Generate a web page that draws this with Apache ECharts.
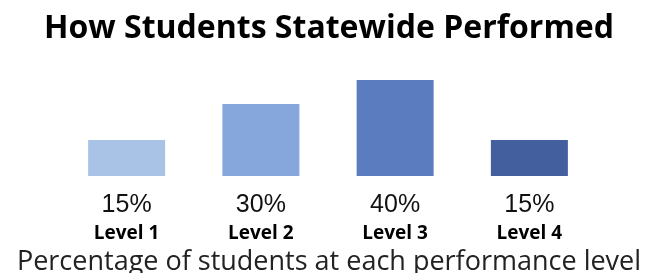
<!DOCTYPE html>
<html>
<head>
<meta charset="utf-8">
<script src="https://cdn.jsdelivr.net/npm/echarts@6/dist/echarts.min.js"></script>
<style>
  html, body { margin: 0; padding: 0; background: #fff; }
  #chart { width: 658px; height: 273px; }
</style>
</head>
<body>
<div id="chart"></div>
<script>
// data
const levels = ['Level 1', 'Level 2', 'Level 3', 'Level 4'];
const percents = [15, 30, 40, 15];
const barColors = ['#A9C3E6', '#85A7DB', '#5B7DBF', '#445F9D'];

const chart = echarts.init(document.getElementById('chart'), null, { renderer: 'canvas' });

const option = {
  backgroundColor: '#fff',
  animation: false,
  title: [
    {
      text: 'How Students Statewide Performed',
      left: 'center',
      top: 8,
      textStyle: {
        fontFamily: 'Open Sans',
        fontWeight: 'bold',
        fontSize: 32,
        color: '#000'
      }
    },
    {
      text: 'Percentage of students at each performance level',
      left: 'center',
      top: 244,
      textStyle: {
        fontFamily: 'Open Sans',
        fontWeight: 'normal',
        fontSize: 27,
        color: '#222'
      }
    }
  ],
  grid: {
    left: 59.5,
    right: 61.5,
    top: 80,
    bottom: 97
  },
  xAxis: {
    type: 'category',
    data: levels,
    axisLine: { show: false },
    axisTick: { show: false },
    axisLabel: {
      margin: 13,
      interval: 0,
      formatter: function (val, i) {
        return '{pct|' + percents[i] + '%}\n{lvl|' + val + '}';
      },
      rich: {
        pct: {
          fontFamily: 'Liberation Sans',
          fontSize: 25,
          lineHeight: 33,
          color: '#111'
        },
        lvl: {
          fontFamily: 'Open Sans',
          fontWeight: 'bold',
          fontSize: 19,
          lineHeight: 24,
          color: '#000'
        }
      }
    }
  },
  yAxis: {
    type: 'value',
    min: 0,
    max: 40,
    show: false,
    splitLine: { show: false }
  },
  series: [
    {
      type: 'bar',
      barWidth: 77,
      data: percents.map((v, i) => ({ value: v, itemStyle: { color: barColors[i] } }))
    }
  ]
};

chart.setOption(option);
</script>
</body>
</html>
